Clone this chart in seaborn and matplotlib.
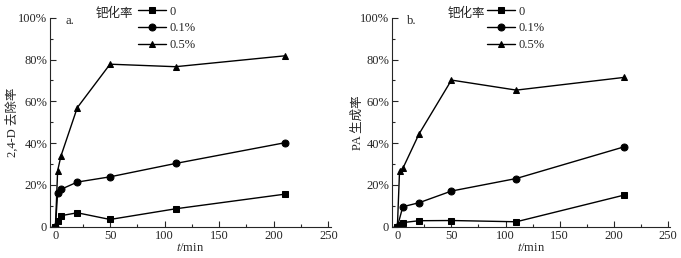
import numpy as np
import pandas as pd
import matplotlib
matplotlib.use("Agg")
import matplotlib.pyplot as plt
from matplotlib.ticker import MultipleLocator, FuncFormatter
import seaborn as sns

# panel a: 2,4-D removal
t_a = [0, 2, 5, 20, 50, 110, 210]
a_0 = [0, 0.027, 0.053, 0.067, 0.035, 0.086, 0.156]
a_01 = [0, 0.163, 0.179, 0.214, 0.239, 0.303, 0.402]
a_05 = [0, 0.268, 0.338, 0.570, 0.778, 0.766, 0.818]

# panel b: PA formation
t_b0 = [0, 2, 5, 20, 50, 110, 210]
b_0 = [0, 0.010, 0.020, 0.029, 0.030, 0.024, 0.152]
t_b01 = [0, 5, 20, 50, 110, 210]
b_01 = [0, 0.096, 0.115, 0.171, 0.231, 0.383]
t_b05 = [0, 2, 5, 20, 50, 110, 210]
b_05 = [0, 0.268, 0.279, 0.444, 0.702, 0.654, 0.715]

labels = ["0", "0.1%", "0.5%"]
markers = ["s", "o", "^"]

sns.set_style("ticks")
plt.rcParams['font.family'] = ['Liberation Serif', 'Noto Sans CJK SC']
plt.rcParams['mathtext.fontset'] = 'stix'
plt.rcParams['font.size'] = 9

fig = plt.figure(figsize=(6.81, 2.58), dpi=100)
ax1 = fig.add_axes([0.0734, 0.121, 0.412, 0.810])
ax2 = fig.add_axes([0.5756, 0.121, 0.408, 0.810])


def pct(v, pos):
    if abs(v) < 1e-9:
        return "0"
    return "%d%%" % round(v * 100)


def draw(ax, series, ylabel, tag, title_x, leg_x, ylab_x):
    for (tt, yy), lab, mk in zip(series, labels, markers):
        df = pd.DataFrame({"t": tt, "y": yy})
        sns.lineplot(data=df, x="t", y="y", ax=ax, color="k", lw=1,
                     marker=mk, markersize=5, markeredgecolor="k",
                     label=lab)
    ax.set_xlim(-5, 252)
    ax.set_ylim(0, 1.0)
    ax.xaxis.set_major_locator(MultipleLocator(50))
    ax.xaxis.set_minor_locator(MultipleLocator(25))
    ax.yaxis.set_major_locator(MultipleLocator(0.2))
    ax.yaxis.set_minor_locator(MultipleLocator(0.1))
    ax.yaxis.set_major_formatter(FuncFormatter(pct))
    ax.tick_params(which="major", direction="in", length=4, width=0.8,
                   labelsize=9, pad=2)
    ax.tick_params(which="minor", direction="in", length=2.5, width=0.8)
    for s in ["top", "right"]:
        ax.spines[s].set_visible(False)
    for s in ["left", "bottom"]:
        ax.spines[s].set_linewidth(0.8)
    ax.set_xlabel("$t$/min", fontsize=9, labelpad=0)
    ax.set_ylabel(ylabel, fontsize=9)
    ax.yaxis.set_label_coords(ylab_x, 0.5)
    ax.text(0.054, 0.985, tag, transform=ax.transAxes, fontsize=9,
            ha="left", va="center")
    h, l = ax.get_legend_handles_labels()
    ax.legend(h, l, loc="upper left", bbox_to_anchor=(leg_x, 1.058),
              frameon=False, fontsize=9, handlelength=2.2,
              handletextpad=0.3, labelspacing=0.38, borderpad=0,
              borderaxespad=0)
    ax.text(title_x, 1.022, "钯化率", transform=ax.transAxes, fontsize=9,
            ha="right", va="center")


draw(ax1, [(t_a, a_0), (t_a, a_01), (t_a, a_05)], "2,4-D 去除率", "a.",
     0.296, 0.314, -0.11)
draw(ax2, [(t_b0, b_0), (t_b01, b_01), (t_b05, b_05)], "PA 生成率", "b.",
     0.336, 0.342, -0.10)

fig.savefig("out.png", dpi=100)
